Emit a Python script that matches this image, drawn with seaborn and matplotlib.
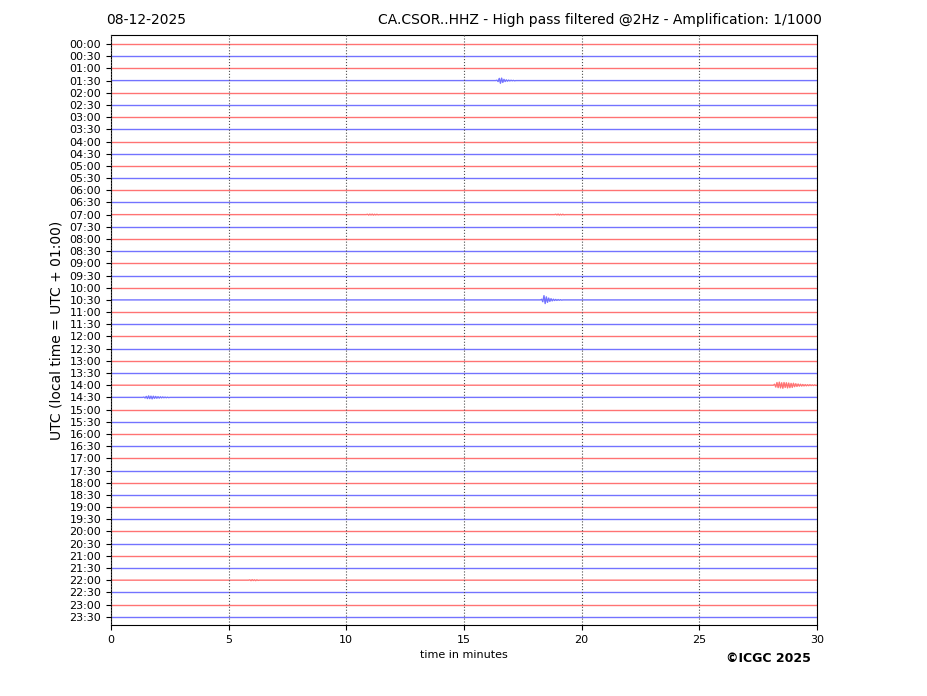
import numpy as np
import pandas as pd
import matplotlib
matplotlib.use("Agg")
import matplotlib.pyplot as plt
import seaborn as sns

# === Data ===
# one trace per half hour, time axis in minutes
hours = [f"{h:02d}:{m:02d}" for h in range(24) for m in (0, 30)]
trace_colors = ["red", "blue"] * 24
step = 0.05
minutes = np.round(np.arange(0, 30 + step / 2, step), 3)

# events: (row label, start minute, amplitudes in row units)
ev_0130 = [0.03, -0.08, 0.18, -0.22, 0.2, -0.15, 0.1, -0.08, 0.06, -0.05,
           0.04, -0.03, 0.03, -0.02, 0.02, -0.02]
ev_0700a = [0.03, -0.04, 0.04, -0.03, 0.04, -0.04, 0.03, -0.03, 0.03, -0.02]
ev_0700b = [0.03, -0.03, 0.04, -0.04, 0.03, -0.03, 0.03, -0.02]
ev_1030 = [0.05, -0.15, 0.35, -0.3, 0.25, -0.2, 0.15, -0.12, 0.1, -0.08,
           0.06, -0.05, 0.04, -0.04, 0.03, -0.03, 0.02, -0.02]
ev_1400 = [0.08, -0.15, 0.22, -0.2, 0.25, -0.22, 0.2, -0.25, 0.22, -0.18,
           0.2, -0.22, 0.18, -0.2, 0.15, -0.18, 0.16, -0.12, 0.12, -0.1,
           0.1, -0.08, 0.08, -0.07, 0.06, -0.06, 0.05, -0.05, 0.04, -0.04,
           0.04, -0.03, 0.03, -0.03, 0.03, -0.02]
ev_1430 = [0.03, -0.05, 0.08, -0.1, 0.12, -0.1, 0.1, -0.12, 0.1, -0.08,
           0.08, -0.07, 0.06, -0.06, 0.05, -0.04, 0.04, -0.03, 0.03, -0.03,
           0.02, -0.02]
ev_2200 = [0.03, -0.04, 0.04, -0.03, 0.03, -0.04, 0.03, -0.02]
events = [("01:30", 16.40, ev_0130), ("07:00", 10.90, ev_0700a),
          ("07:00", 18.90, ev_0700b), ("10:30", 18.30, ev_1030),
          ("14:00", 28.20, ev_1400), ("14:30", 1.40, ev_1430),
          ("22:00", 5.90, ev_2200)]

# === Build long table ===
frames = []
for i, lab in enumerate(hours):
    amp = np.zeros(len(minutes))
    for row, start, vals in events:
        if row == lab:
            k = int(round(start / step))
            amp[k:k + len(vals)] += vals
    frames.append(pd.DataFrame({"minute": minutes, "y": -i + amp, "row": lab}))
df = pd.concat(frames, ignore_index=True)

# === Plot ===
fig = plt.figure(figsize=(9.27, 6.96), dpi=100)
ax = fig.add_axes([0.1197, 0.102, 0.7616, 0.8477])

sns.lineplot(data=df, x="minute", y="y", hue="row", hue_order=hours,
             palette=trace_colors, estimator=None, legend=False,
             linewidth=1.0, alpha=0.55, ax=ax)

ax.set_xlim(0, 30)
ax.set_ylim(-47.68, 0.74)
ax.set_xticks(range(0, 31, 5))
ax.set_yticks([-i for i in range(len(hours))])
ax.set_yticklabels(hours)
ax.tick_params(axis="both", labelsize=8)
ax.xaxis.grid(True, linestyle=":", color="0.3", linewidth=0.8)
ax.set_axisbelow(False)
ax.set_xlabel("time in minutes", fontsize=8)
ax.set_ylabel("UTC (local time = UTC + 01:00)", fontsize=10)

fig.text(106 / 927, 1 - 20 / 696, "08-12-2025", ha="left", va="center", fontsize=10)
fig.text(822 / 927, 1 - 20 / 696,
         "CA.CSOR..HHZ - High pass filtered @2Hz - Amplification: 1/1000",
         ha="right", va="center", fontsize=10)
fig.text(811 / 927, 1 - 658 / 696, "\u00a9ICGC 2025", ha="right", va="center",
         fontsize=9, fontweight="bold")

fig.savefig("out.png", dpi=100)
